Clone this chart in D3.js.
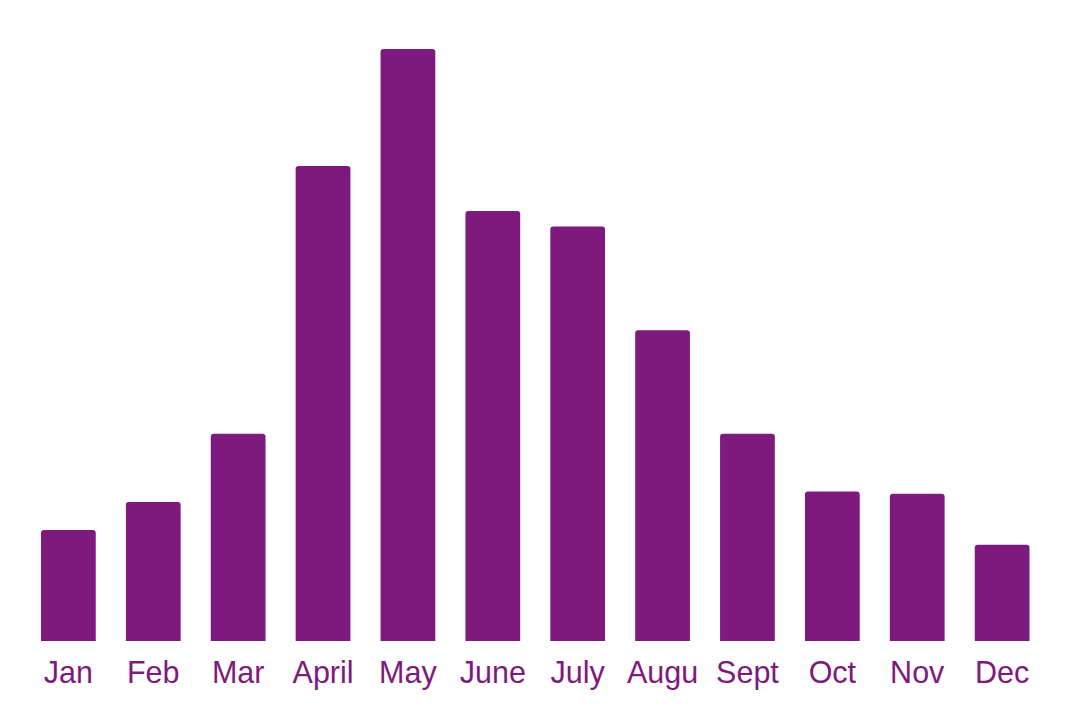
<!DOCTYPE html>
<html><head><meta charset="utf-8">
<script src="https://cdn.jsdelivr.net/npm/d3@7"></script>
<style>html,body{margin:0;padding:0;background:#fff;}</style>
</head><body>
<svg id="chart" width="1080" height="724"></svg>
<script>
const months = ["Jan","Feb","Mar","April","May","June","July","Augu","Sept","Oct","Nov","Dec"];
const values = [15, 18.8, 28, 64.2, 80, 58.1, 56, 42, 28, 20.2, 19.9, 13];

const svg = d3.select("#chart");
const color = "#7e197e";
const x = d3.scaleBand().domain(months).range([41, 1029.5]).paddingInner(0.355).paddingOuter(0);
const y = d3.scaleLinear().domain([0, 80]).range([641, 49]);

function barPath(x0, y0, w, h, r) {
  return `M${x0},${y0+h}V${y0+r}Q${x0},${y0} ${x0+r},${y0}H${x0+w-r}Q${x0+w},${y0} ${x0+w},${y0+r}V${y0+h}Z`;
}

svg.append("g").selectAll("path").data(months).join("path")
  .attr("d", (m,i) => barPath(x(m), y(values[i]), x.bandwidth(), y(0)-y(values[i]), 3))
  .attr("fill", color);

const axis = d3.axisBottom(x).tickSize(0).tickPadding(0);
const g = svg.append("g").attr("transform", `translate(0,${y(0)})`).call(axis);
g.select(".domain").remove();
g.selectAll("text")
  .attr("y", 42).attr("dy", 0)
  .attr("fill", color)
  .style("font-family", "'Liberation Sans', Arial, sans-serif")
  .style("font-size", "30.5px");
</script>
</body></html>
